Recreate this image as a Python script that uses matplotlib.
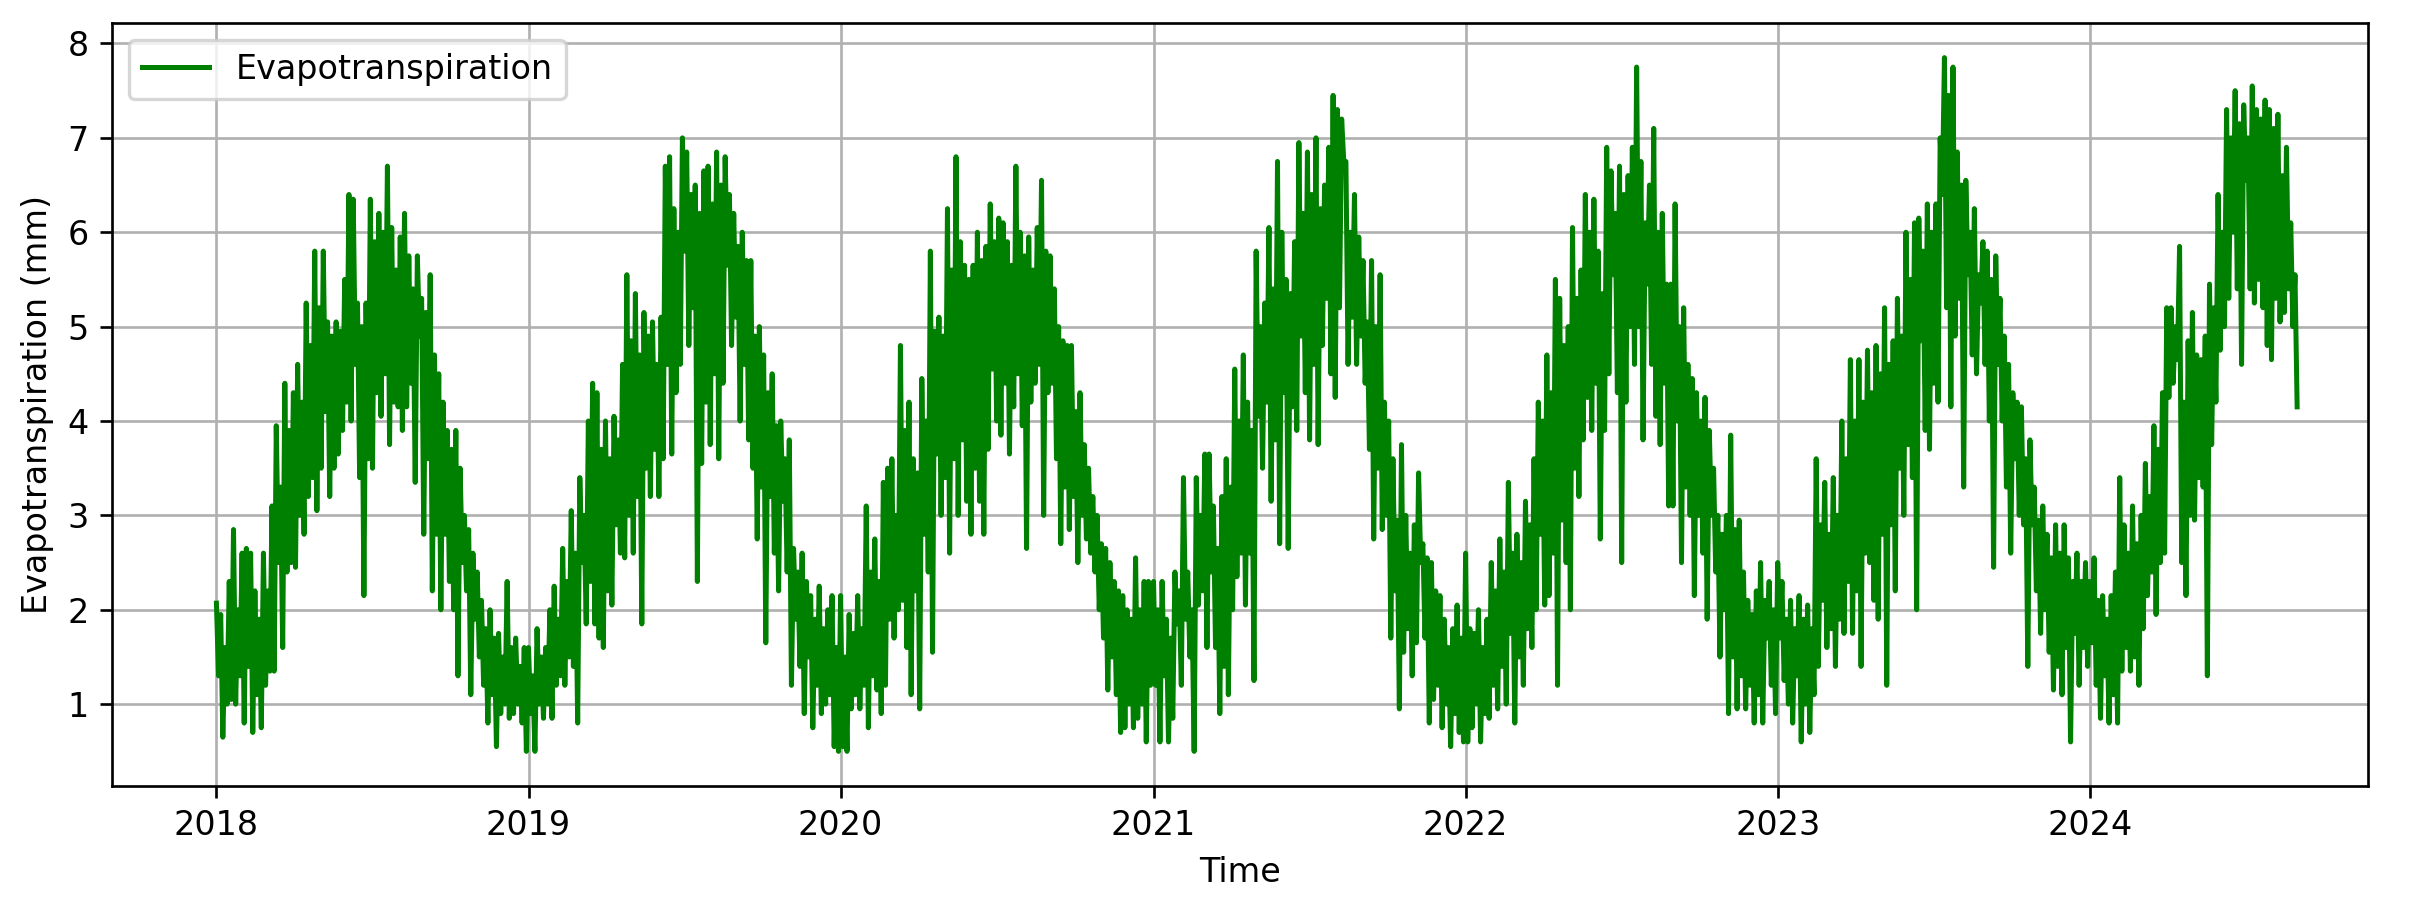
import numpy as np
import pandas as pd
import matplotlib
matplotlib.use("Agg")
import matplotlib.pyplot as plt

# Evapotranspiration (mm): upper and lower edge of the
# daily band every 5 days (the low value sits 2.5 days after the high one)
hi_2018 = [2.07, 1.95, 1.6, 2.3, 2.85, 2.0, 2.6, 2.65, 2.6, 2.2,
           1.9, 2.6, 2.2, 3.1, 3.95, 3.3, 4.4, 3.9, 4.3, 4.6,
           4.2, 5.25, 4.8, 5.8, 5.2, 5.8, 5.05, 4.9, 5.05, 4.95,
           5.5, 6.4, 6.35, 5.25, 5.0, 5.25, 6.35, 5.9, 6.2, 6.0,
           6.7, 6.05, 5.6, 5.95, 6.2, 5.75, 5.4, 5.75, 5.3, 5.15,
           5.55, 4.7, 4.5, 4.2, 3.9, 3.7, 3.9, 3.5, 3.0, 2.85,
           2.6, 2.4, 2.1, 1.8, 2.0, 1.7, 1.75, 1.5, 2.3, 1.6,
           1.7, 1.4, 1.6]
lo_2018 = [1.3, 0.65, 1.0, 1.05, 1.0, 1.3, 0.8, 1.4, 0.7, 1.1,
           0.75, 1.2, 1.35, 1.35, 2.5, 1.6, 2.4, 2.5, 2.45, 3.0,
           2.8, 3.2, 3.4, 3.05, 3.5, 4.1, 3.2, 3.5, 3.65, 3.9,
           4.2, 4.0, 4.6, 3.4, 2.15, 3.6, 3.5, 4.3, 4.05, 4.5,
           3.75, 4.2, 4.15, 3.9, 4.15, 4.4, 3.35, 4.9, 2.8, 3.6,
           2.2, 2.8, 2.0, 2.8, 2.3, 2.0, 1.3, 2.5, 2.2, 1.1,
           1.9, 1.5, 1.2, 0.8, 1.1, 0.55, 0.9, 1.0, 0.85, 0.9,
           1.0, 0.8, 0.5]

hi_2019 = [1.6, 1.3, 1.8, 1.5, 1.6, 2.0, 2.25, 1.9, 2.65, 2.3,
           3.05, 2.6, 3.4, 3.0, 4.0, 4.4, 4.3, 3.7, 4.0, 3.6,
           4.05, 3.8, 4.6, 5.55, 4.85, 5.35, 4.7, 5.15, 4.9, 5.05,
           4.6, 5.1, 6.7, 6.8, 6.25, 6.0, 7.0, 6.85, 6.4, 6.5,
           6.2, 6.65, 6.7, 6.3, 6.85, 6.5, 6.8, 6.4, 6.2, 5.85,
           6.0, 5.7, 5.7, 4.9, 5.0, 4.7, 4.3, 4.5, 3.95, 4.0,
           3.6, 3.8, 2.65, 2.4, 2.6, 2.3, 2.15, 1.9, 2.25, 1.8,
           2.0, 2.15, 1.6]
lo_2019 = [0.9, 0.5, 1.0, 0.85, 1.0, 0.85, 1.2, 1.3, 1.2, 1.5,
           1.4, 0.8, 2.5, 1.85, 2.3, 1.85, 1.7, 1.6, 2.2, 2.05,
           2.9, 2.6, 2.55, 3.0, 2.6, 3.2, 1.85, 3.5, 3.2, 3.7,
           3.2, 3.6, 4.6, 3.65, 4.3, 4.6, 5.8, 4.8, 5.2, 2.3,
           3.55, 4.2, 3.75, 4.5, 3.6, 4.4, 5.65, 4.8, 5.1, 4.0,
           4.6, 3.8, 3.5, 2.75, 3.3, 1.65, 3.2, 2.6, 2.2, 3.15,
           2.4, 1.2, 1.9, 1.4, 0.9, 1.5, 0.75, 1.2, 0.9, 1.0,
           1.1, 0.55, 0.5]

hi_2020 = [2.15, 1.5, 1.95, 1.75, 2.15, 1.8, 3.1, 2.4, 2.75, 2.3,
           3.35, 3.5, 3.6, 3.0, 4.8, 3.9, 4.2, 3.6, 3.45, 4.45,
           4.0, 5.8, 4.95, 5.1, 4.9, 6.25, 5.6, 6.8, 5.9, 5.65,
           5.5, 5.65, 6.0, 5.7, 5.85, 6.3, 5.9, 6.15, 6.1, 5.9,
           5.65, 6.7, 6.0, 5.75, 5.95, 5.6, 6.05, 6.55, 5.8, 5.75,
           5.4, 5.0, 4.85, 4.8, 4.8, 4.1, 4.3, 3.75, 3.5, 3.2,
           3.0, 2.7, 2.65, 2.5, 2.3, 2.2, 2.15, 2.0, 1.9, 2.55,
           2.0, 2.3, 2.3]
lo_2020 = [0.55, 0.5, 0.95, 1.1, 0.95, 1.2, 0.75, 1.3, 1.15, 0.9,
           1.2, 1.9, 1.7, 2.0, 2.1, 1.6, 1.1, 2.2, 0.95, 2.8,
           2.4, 1.55, 3.65, 3.0, 3.4, 2.6, 3.6, 3.0, 3.8, 3.15,
           2.8, 3.5, 3.15, 2.8, 3.7, 4.55, 4.0, 3.85, 4.4, 3.65,
           4.15, 4.5, 3.95, 2.65, 4.2, 4.4, 4.6, 3.0, 4.3, 4.4,
           3.6, 2.7, 3.3, 2.85, 3.2, 2.5, 3.0, 2.75, 2.6, 2.4,
           2.0, 1.7, 1.15, 1.5, 1.1, 0.7, 0.75, 1.0, 0.75, 0.85,
           1.0, 0.6, 1.2]

hi_2021 = [2.3, 2.0, 2.3, 1.9, 1.7, 2.4, 2.2, 3.4, 2.4, 2.0,
           3.4, 3.0, 3.65, 3.65, 3.1, 2.65, 3.2, 3.6, 3.3, 4.55,
           4.0, 4.7, 4.2, 3.9, 5.8, 5.0, 5.25, 6.05, 5.4, 6.75,
           6.0, 5.5, 5.35, 5.9, 6.95, 6.2, 6.85, 6.4, 7.0, 6.25,
           6.5, 6.9, 7.45, 7.3, 7.2, 6.75, 6.0, 6.4, 5.95, 5.7,
           5.05, 5.7, 5.0, 5.55, 4.2, 4.0, 3.6, 2.95, 3.75, 3.0,
           2.6, 2.9, 3.45, 2.7, 2.55, 2.5, 2.2, 2.15, 1.9, 1.6,
           1.8, 2.05, 1.7]
lo_2021 = [1.2, 0.6, 1.3, 0.6, 0.85, 1.85, 1.2, 1.9, 1.5, 0.5,
           2.05, 2.2, 1.6, 2.4, 1.6, 0.9, 1.4, 1.1, 2.0, 2.35,
           2.6, 2.05, 2.6, 1.25, 4.05, 3.5, 4.2, 3.15, 3.8, 2.7,
           4.3, 2.65, 4.15, 3.9, 4.9, 4.3, 3.8, 4.6, 3.75, 4.8,
           5.3, 4.5, 4.25, 5.2, 6.75, 4.6, 5.1, 4.6, 4.9, 4.4,
           3.7, 2.75, 3.5, 2.85, 3.0, 1.7, 2.2, 0.95, 1.55, 1.8,
           1.3, 1.65, 2.5, 1.7, 0.8, 1.05, 1.2, 0.75, 1.0, 0.55,
           0.9, 0.7, 0.6]

hi_2022 = [2.6, 1.8, 1.75, 2.0, 1.6, 1.9, 2.5, 2.2, 2.75, 2.4,
           3.35, 2.6, 2.8, 2.5, 3.15, 2.9, 3.6, 4.2, 4.0, 4.7,
           4.3, 5.5, 5.3, 4.8, 5.0, 6.05, 5.3, 5.6, 6.4, 6.0,
           6.35, 5.8, 5.35, 6.9, 6.65, 6.2, 6.7, 6.4, 6.6, 6.9,
           7.75, 6.75, 6.1, 6.5, 7.1, 6.0, 6.2, 5.45, 5.45, 6.3,
           5.0, 5.2, 4.6, 4.45, 4.3, 4.0, 4.25, 3.9, 3.5, 3.0,
           2.8, 3.0, 3.85, 2.85, 2.95, 2.4, 2.1, 1.95, 2.2, 2.5,
           2.1, 2.3, 2.0]
lo_2022 = [0.6, 0.75, 1.0, 0.6, 0.9, 0.85, 1.2, 0.95, 1.4, 1.0,
           1.75, 0.8, 1.5, 1.2, 1.8, 1.6, 2.0, 2.8, 2.05, 2.15,
           2.6, 1.2, 2.95, 2.5, 2.0, 3.5, 3.2, 3.8, 4.25, 3.9,
           4.4, 2.75, 3.9, 4.5, 5.55, 4.3, 2.5, 4.2, 5.0, 4.6,
           5.0, 3.8, 5.45, 4.6, 4.05, 3.75, 4.4, 3.1, 3.1, 4.0,
           2.5, 3.3, 3.0, 2.15, 3.0, 2.6, 1.9, 3.0, 2.4, 1.5,
           2.0, 0.9, 1.5, 0.95, 1.3, 0.95, 1.2, 0.8, 1.1, 0.8,
           1.7, 1.2, 0.9]

hi_2023 = [2.5, 2.3, 1.9, 2.1, 1.8, 2.15, 1.9, 2.05, 1.8, 3.6,
           2.9, 3.35, 2.8, 3.4, 3.0, 4.0, 3.6, 4.65, 4.0, 4.65,
           4.2, 4.75, 4.3, 4.8, 4.5, 5.2, 4.6, 4.85, 5.3, 4.9,
           6.0, 5.5, 6.1, 6.15, 5.8, 6.3, 6.0, 6.3, 7.0, 7.85,
           7.45, 7.75, 6.85, 6.5, 6.55, 6.0, 6.25, 5.55, 5.9, 5.8,
           5.5, 5.75, 5.3, 4.9, 4.6, 4.3, 4.2, 4.15, 3.6, 3.8,
           3.3, 2.95, 3.1, 2.8, 2.55, 2.9, 2.6, 2.9, 2.55, 2.3,
           2.6, 2.3, 2.5]
lo_2023 = [1.7, 1.25, 1.0, 0.8, 1.3, 0.6, 1.0, 0.7, 1.1, 1.4,
           2.1, 1.6, 1.8, 1.4, 1.9, 1.75, 2.3, 1.75, 2.2, 1.4,
           2.6, 2.5, 2.1, 1.9, 2.8, 1.2, 2.9, 2.2, 3.5, 3.0,
           3.75, 3.4, 2.0, 4.85, 3.9, 3.7, 4.4, 4.2, 6.4, 5.2,
           4.15, 4.9, 5.3, 3.3, 5.55, 4.7, 4.5, 5.25, 4.6, 4.0,
           2.45, 4.6, 4.0, 3.3, 2.6, 3.6, 3.0, 2.9, 1.4, 2.9,
           2.2, 1.75, 2.0, 1.55, 1.15, 1.4, 1.1, 1.6, 0.6, 1.75,
           1.2, 1.6, 1.4]

hi_2024 = [2.3, 2.55, 2.1, 2.15, 1.9, 2.15, 2.4, 3.4, 2.9, 2.6,
           3.1, 2.7, 3.0, 3.55, 3.2, 3.95, 3.7, 4.3, 5.2, 5.2,
           5.0, 5.85, 4.2, 4.85, 5.15, 4.7, 4.65, 4.9, 5.45, 5.2,
           6.4, 6.0, 7.3, 7.0, 7.5, 7.15, 7.35, 7.0, 7.55, 7.3,
           7.2, 7.4, 7.3, 7.1, 7.25, 6.6, 6.9, 6.1, 5.55]
lo_2024 = [1.65, 1.2, 0.85, 1.3, 0.8, 1.1, 0.8, 1.35, 1.6, 1.35,
           1.5, 1.2, 1.8, 2.15, 2.4, 1.95, 2.5, 2.6, 4.25, 4.4,
           4.65, 2.5, 2.15, 3.0, 2.95, 3.4, 3.3, 1.3, 3.75, 4.2,
           4.75, 5.0, 5.3, 6.0, 5.4, 4.6, 6.55, 5.4, 5.25, 5.5,
           5.2, 4.8, 4.65, 5.3, 5.05, 5.15, 5.4, 5.0, 4.15]

years = [2018, 2019, 2020, 2021, 2022, 2023, 2024]
highs = [hi_2018, hi_2019, hi_2020, hi_2021, hi_2022, hi_2023, hi_2024]
lows = [lo_2018, lo_2019, lo_2020, lo_2021, lo_2022, lo_2023, lo_2024]


def build_series():
    parts = []
    for y, hi, lo in zip(years, highs, lows):
        start = pd.Timestamp(f"{y}-01-01")
        idx_hi = start + pd.to_timedelta(np.arange(len(hi)) * 5, unit="D")
        idx_lo = start + pd.to_timedelta(np.arange(len(lo)) * 5 + 2.5, unit="D")
        parts.append(pd.Series(hi, index=idx_hi))
        parts.append(pd.Series(lo, index=idx_lo))
    return pd.concat(parts).sort_index()


def main():
    et = build_series()

    fig, ax = plt.subplots(figsize=(2416 / 240, 904 / 240), dpi=240)
    fig.subplots_adjust(left=0.0464, right=0.980, bottom=0.1305, top=0.9746)
    ax.plot(et.index, et.values, color="green", label="Evapotranspiration")
    ax.set_xlim(pd.Timestamp("2017-09-01"), pd.Timestamp("2024-11-21"))
    ax.set_xlabel("Time")
    ax.set_ylabel("Evapotranspiration (mm)")
    ax.legend(loc="upper left")
    ax.grid(True)
    fig.savefig("out.png", dpi=240)
    plt.close(fig)


if __name__ == "__main__":
    main()
